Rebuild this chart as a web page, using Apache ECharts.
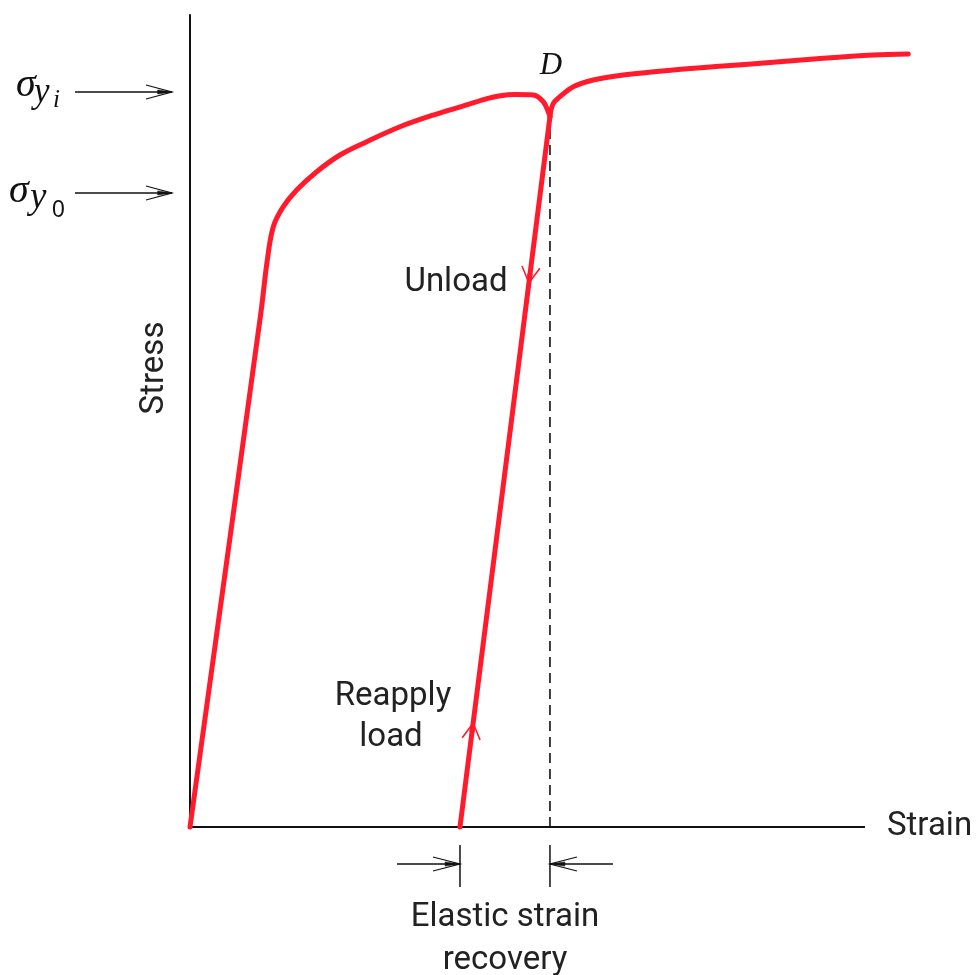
<!DOCTYPE html>
<html><head><meta charset="utf-8">
<script src="https://cdn.jsdelivr.net/npm/echarts@6.0.0/dist/echarts.min.js"></script>
<style>html,body{margin:0;padding:0;background:#fff}#c{width:977px;height:975px}</style>
</head><body><div id="c"></div>
<script>
// Loading curve (strain, stress) from origin up to point D
const loadStrain = [0, 10.45, 11.45, 12.34, 13.82, 15.81, 18.77, 22.22, 26.18, 31.11, 36.04, 40.99, 44.00, 46.00, 48.00, 50.86, 52.34, 53.08, 53.33];
const loadStress = [0, 63.00, 69.80, 73.93, 76.39, 78.45, 80.70, 82.76, 84.40, 86.24, 87.68, 88.92, 89.70, 90.05, 90.20, 90.15, 89.32, 88.09, 87.48];
// Unload / reapply line (D -> foot)
const unloadStrain = [53.33, 40.0];
const unloadStress = [87.48, 0];
// Reload curve continuing after D
const reloadStrain = [53.33, 53.78, 54.81, 56.79, 59.75, 64.19, 71.60, 79.00, 86.41, 93.82, 101.23, 106.41];
const reloadStress = [87.48, 89.04, 89.94, 91.17, 92.00, 92.61, 93.23, 93.72, 94.17, 94.67, 95.07, 95.20];
// Yield stress levels: sigma_yi, sigma_y0
const yieldLevels = [90.52, 78.08];
// Arrow positions (stress) on the unload / reapply line
const unloadArrowStress = 67.0;
const reapplyArrowStress = 12.8;
// Axis extents
const strainAxisEnd = 100;
const strainMax = 106.67;
const stressMax = 100;

const RED = '#ff1a2c';
const INK = '#111';
const TXT = '#222';
const SANS = 'Roboto';
const SERIF = 'Liberation Serif';
const zip = (a, b) => a.map((v, i) => [v, b[i]]);

const chart = echarts.init(document.getElementById('c'), null, {renderer: 'canvas'});
const redLine = {width: 5, color: RED, cap: 'round', join: 'round'};
const base = {type: 'line', showSymbol: false, symbol: 'none', clip: false, silent: true};
chart.setOption({
  animation: false,
  grid: {left: 190, right: 67, top: 15, bottom: 148},
  xAxis: {
    type: 'value', min: 0, max: strainMax,
    axisLine: {show: false}, axisTick: {show: false}, axisLabel: {show: false}, splitLine: {show: false}
  },
  yAxis: {
    type: 'value', min: 0, max: stressMax,
    axisLine: {show: true, onZero: false, lineStyle: {color: INK, width: 2}},
    axisTick: {show: false}, axisLabel: {show: false}, splitLine: {show: false}
  },
  series: [
    Object.assign({}, base, {name: 'strainAxis', data: [[0, 0], [strainAxisEnd, 0]],
      lineStyle: {color: INK, width: 2}}),
    Object.assign({}, base, {name: 'dashed', data: [[unloadStrain[0], 0], [unloadStrain[0], unloadStress[0]]],
      lineStyle: {color: INK, width: 1.6, type: [10, 6]}}),
    Object.assign({}, base, {name: 'load', data: zip(loadStrain, loadStress), smooth: 0.35, lineStyle: redLine}),
    Object.assign({}, base, {name: 'unload', data: zip(unloadStrain, unloadStress), lineStyle: redLine}),
    Object.assign({}, base, {name: 'reload', data: zip(reloadStrain, reloadStress), smooth: 0.35, lineStyle: redLine})
  ]
});

const px = p => chart.convertToPixel({gridIndex: 0}, p);
const g = [];
function seg(a, b, color, w) {
  g.push({type: 'line', shape: {x1: a[0], y1: a[1], x2: b[0], y2: b[1]}, style: {stroke: color, lineWidth: w}, z: 100});
}
function head(tip, dir, len, half, color, w) {
  const n = Math.hypot(dir[0], dir[1]);
  const ux = dir[0] / n, uy = dir[1] / n;
  const pxp = -uy, pyp = ux;
  const bx = tip[0] - ux * len, by = tip[1] - uy * len;
  g.push({type: 'polyline', shape: {points: [[bx + pxp * half, by + pyp * half], tip, [bx - pxp * half, by - pyp * half]]},
          style: {stroke: color, lineWidth: w, fill: null}, z: 100});
  const bx2 = tip[0] - ux * len * 0.55, by2 = tip[1] - uy * len * 0.55;
  g.push({type: 'polygon', shape: {points: [[bx2 + pxp * half * 0.3, by2 + pyp * half * 0.3], tip, [bx2 - pxp * half * 0.3, by2 - pyp * half * 0.3]]},
          style: {fill: color, stroke: color, lineWidth: 0.5}, z: 100});
}
function text(t, x, y, opt) {
  g.push({type: 'text', x: x, y: y, rotation: opt.rotation || 0, z: 100,
          style: Object.assign({text: t, fill: TXT, align: 'center', verticalAlign: 'middle',
                                fontFamily: SANS, fontSize: 33}, opt.style || {})});
}

const origin = px([0, 0]);
// Strain axis name
const axEnd = px([strainAxisEnd, 0]);
text('Strain', axEnd[0] + 22, axEnd[1], {style: {align: 'left'}});

// Yield level arrows
yieldLevels.forEach(s => {
  const y = px([0, s])[1];
  seg([origin[0] - 115, y], [origin[0] - 18, y], INK, 1.5);
  head([origin[0] - 18, y], [1, 0], 26, 7, INK, 1.2);
});
const serifIt = (size) => ({align: 'left', fontFamily: SERIF, fontStyle: 'italic', fontSize: size, fill: INK});
// sigma_yi label
const yiY = px([0, yieldLevels[0]])[1];
text('σ', 16, yiY - 6, {style: serifIt(40)});
text('y', 34, yiY + 1, {style: serifIt(35)});
text('i', 53, yiY + 8, {style: serifIt(25)});
// sigma_y0 label
const y0Y = px([0, yieldLevels[1]])[1];
text('σ', 9, y0Y - 2, {style: serifIt(40)});
text('y', 30, y0Y + 5, {style: serifIt(37)});
text('0', 52, y0Y + 18, {style: {align: 'left', fontFamily: 'Liberation Sans', fontSize: 23, fill: INK}});

// D label
const D = px([unloadStrain[0], unloadStress[0]]);
const foot = px([unloadStrain[1], unloadStress[1]]);
text('D', D[0] + 1, D[1] - 51, {style: {fontFamily: SERIF, fontStyle: 'italic', fontSize: 31, fill: INK}});

// red arrows on unload/reapply line
const lerpStrain = s => unloadStrain[1] + (unloadStrain[0] - unloadStrain[1]) * (s - unloadStress[1]) / (unloadStress[0] - unloadStress[1]);
const down = [foot[0] - D[0], foot[1] - D[1]];
const up = [D[0] - foot[0], D[1] - foot[1]];
head(px([lerpStrain(unloadArrowStress), unloadArrowStress]), down, 16, 9, RED, 1.6);
head(px([lerpStrain(reapplyArrowStress), reapplyArrowStress]), up, 16, 9, RED, 1.6);

// Elastic strain recovery markers
const fx = foot[0], dx = D[0], ay = origin[1];
seg([fx, ay + 18], [fx, ay + 60], INK, 1.5);
seg([dx, ay + 18], [dx, ay + 60], INK, 1.5);
seg([fx - 63, ay + 37], [fx, ay + 37], INK, 1.5);
head([fx, ay + 37], [1, 0], 27, 7, INK, 1.2);
seg([dx + 63, ay + 37], [dx, ay + 37], INK, 1.5);
head([dx, ay + 37], [-1, 0], 27, 7, INK, 1.2);

// Text labels
text('Stress', 155, 368, {rotation: Math.PI / 2});
text('Unload', 456, 283, {});
text('Reapply', 393, 697, {});
text('load', 391, 738, {});
text('Elastic strain', (fx + dx) / 2, 918, {});
text('recovery', (fx + dx) / 2, 961, {});

chart.setOption({graphic: {elements: g}});
</script>
</body></html>
